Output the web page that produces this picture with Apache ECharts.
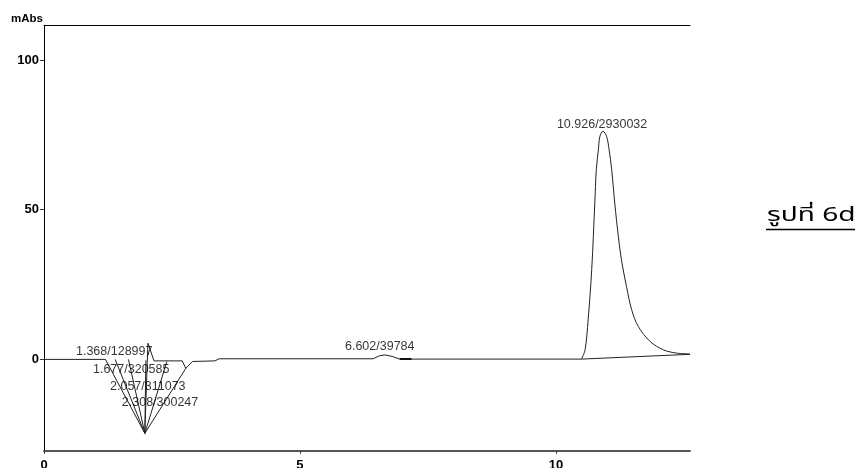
<!DOCTYPE html>
<html>
<head>
<meta charset="utf-8">
<script src="https://cdn.jsdelivr.net/npm/echarts@6/dist/echarts.min.js"></script>
<style>
html,body{margin:0;padding:0;background:#fff;}
#c{width:859px;height:468px;}
</style>
</head>
<body>
<div id="c"></div>
<script>
// ---- data ----
const timeMin = [0, 1.2, 1.97, 2.03, 2.15, 2.70, 2.77, 2.90, 3.34, 3.42, 6.43, 6.55, 6.66, 6.80, 6.95, 7.2,
  10.50, 10.57, 10.63, 10.70, 10.76, 10.79, 10.83, 10.86, 10.92, 10.99, 11.04, 11.09, 11.15, 11.22, 11.28,
  11.38, 11.48, 11.61, 11.84, 12.10, 12.36, 12.62];
const absorbance = [0, 0, -24.7, 5.4, -0.5, -0.5, -3.0, -0.7, -0.5, 0.2, 0.2, 1.2, 1.5, 1.0, 0.1, 0.1,
  0.1, 3.2, 13.2, 30, 52.2, 63.4, 70, 74.5, 76.2, 74.5, 70, 63.4, 52.2, 41.1, 33.3,
  24.3, 16.6, 11.0, 6.0, 3.2, 2.1, 1.8];
// integration baselines / drop lines: [x1, y1, x2, y2]
const integrationLines = [
  [1.39, 0, 1.97, -24.7],
  [1.65, 0, 1.97, -24.7],
  [1.99, -0.3, 1.97, -24.7],
  [2.40, -0.7, 1.97, -24.7],
  [2.77, -3.0, 1.97, -24.7],
  [10.50, 0.1, 12.62, 1.7]
];
const peakMarker = [[6.95, 0.1], [7.18, 0.1]];
const peakLabels = ["1.368/128997", "1.677/320585", "2.057/311073", "2.308/300247", "6.602/39784", "10.926/2930032"];
const labelAnchorX = [0.625, 0.957, 1.29, 1.52, 5.88, 10.02];
const labelAnchorY = [2.6, -3.3, -9.1, -14.4, 4.3, 78.4];
const yTicks = [0, 50, 100];
const xTicks = [0, 5, 10];
const yUnit = "mAbs";
const figureCaption = "รูปที่ 6d";

// ---- chart ----
const chart = echarts.init(document.getElementById('c'), null, {renderer: 'canvas'});
const lineColor = '#222';
const splitIdx = 16; // main peak starts here (drawn smoothed)
const trace = timeMin.map((t, i) => [t, absorbance[i]]);
const series = [{
  type: 'line',
  data: trace.slice(0, splitIdx + 1),
  symbol: 'none',
  lineStyle: {color: lineColor, width: 1},
  animation: false,
  z: 3
}, {
  type: 'line',
  data: trace.slice(splitIdx),
  symbol: 'none',
  smooth: 0.35,
  lineStyle: {color: lineColor, width: 1},
  animation: false,
  z: 3
}];
integrationLines.forEach(s => {
  series.push({
    type: 'line',
    data: [[s[0], s[1]], [s[2], s[3]]],
    symbol: 'none',
    lineStyle: {color: lineColor, width: 1},
    animation: false,
    z: 2
  });
});
series.push({
  type: 'line',
  data: peakMarker,
  symbol: 'none',
  lineStyle: {color: '#111', width: 2},
  animation: false
});
series.push({
  type: 'scatter',
  data: peakLabels.map((t, i) => ({value: [labelAnchorX[i], labelAnchorY[i]], name: t})),
  symbolSize: 0,
  animation: false,
  label: {
    show: true,
    position: 'right',
    distance: 0,
    formatter: p => p.name,
    color: '#000',
    fontFamily: 'Liberation Sans, Arial, sans-serif',
    fontSize: 12.5
  },
  z: 5
});

chart.setOption({
  animation: false,
  backgroundColor: '#fff',
  grid: {left: 44, top: 25.3, right: 169, bottom: 17.3, containLabel: false, outerBoundsMode: 'none'},
  xAxis: [{
    type: 'value',
    min: 0,
    max: 12.62,
    axisLine: {show: true, onZero: false, lineStyle: {color: '#555', width: 2}},
    axisTick: {show: true, length: 3, customValues: xTicks, lineStyle: {color: '#333'}},
    axisLabel: {customValues: xTicks, margin: 8, color: '#000', fontWeight: 'bold',
      fontFamily: 'Liberation Sans, Arial, sans-serif', fontSize: 13, showMinLabel: true, showMaxLabel: true},
    splitLine: {show: false}
  }, {
    type: 'value',
    position: 'top',
    min: 0,
    max: 12.62,
    axisLine: {show: true, onZero: false, lineStyle: {color: '#000', width: 1}},
    axisTick: {show: false},
    axisLabel: {show: false},
    splitLine: {show: false}
  }],
  yAxis: {
    type: 'value',
    min: -30.5,
    max: 111.6,
    name: yUnit,
    nameLocation: 'end',
    nameGap: 0,
    nameTextStyle: {align: 'right', verticalAlign: 'bottom', color: '#000', fontWeight: 'bold',
      fontFamily: 'Liberation Sans, Arial, sans-serif', fontSize: 11.5, padding: [0, 1, 0, 0]},
    axisLine: {show: true, onZero: false, lineStyle: {color: '#000', width: 1}},
    axisTick: {show: true, length: 4, customValues: yTicks, lineStyle: {color: '#333'}},
    axisLabel: {customValues: yTicks, margin: 5, color: '#000', fontWeight: 'bold',
      fontFamily: 'Liberation Sans, Arial, sans-serif', fontSize: 13},
    splitLine: {show: false}
  },
  series: series,
  graphic: [{
    type: 'text',
    x: 767,
    y: 208,
    scaleX: 1.48,
    style: {text: figureCaption, fontSize: 19, fill: '#000',
      fontFamily: 'Noto Sans Thai, Noto Sans, DejaVu Sans, sans-serif'}
  }, {
    type: 'line',
    shape: {x1: 766, y1: 229.5, x2: 855, y2: 229.5},
    style: {stroke: '#000', lineWidth: 1.5}
  }]
});
</script>
</body>
</html>
